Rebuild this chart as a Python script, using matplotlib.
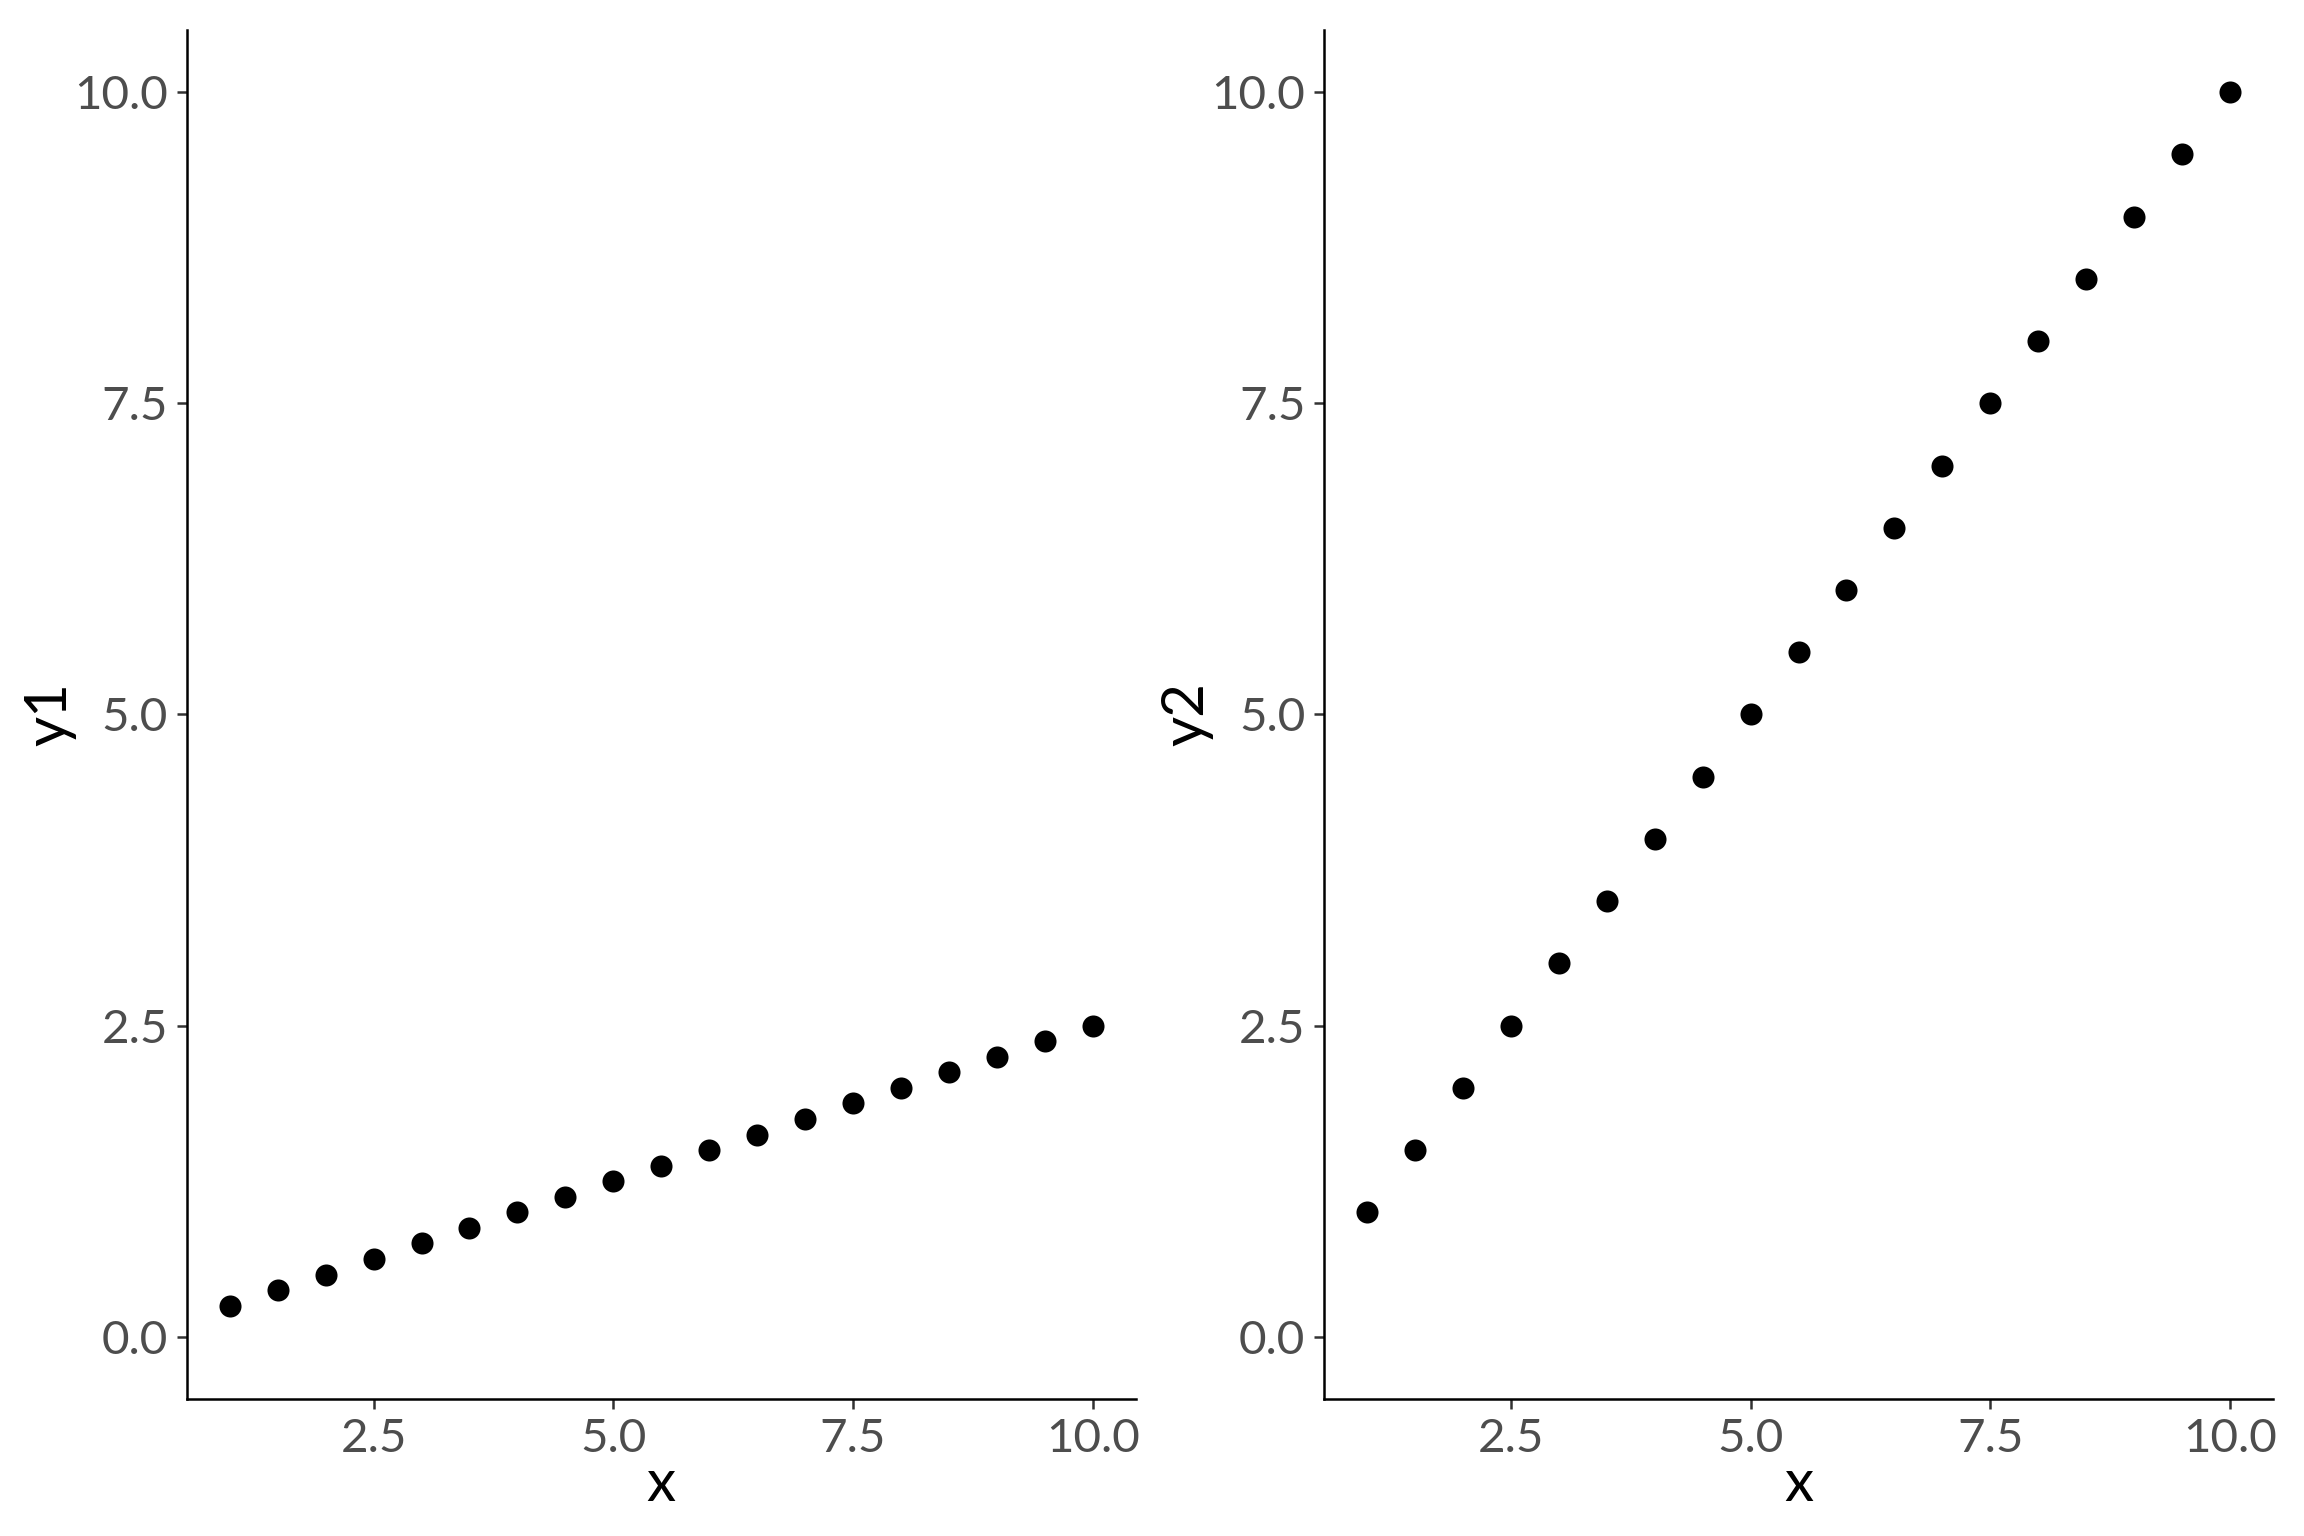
import matplotlib
matplotlib.use("Agg")
import matplotlib.pyplot as plt

plt.rcParams["font.family"] = ["Lato", "DejaVu Sans"]

x = [1.0, 1.5, 2.0, 2.5, 3.0, 3.5, 4.0, 4.5, 5.0, 5.5,
     6.0, 6.5, 7.0, 7.5, 8.0, 8.5, 9.0, 9.5, 10.0]
y1 = [0.25, 0.375, 0.5, 0.625, 0.75, 0.875, 1.0, 1.125, 1.25, 1.375,
      1.5, 1.625, 1.75, 1.875, 2.0, 2.125, 2.25, 2.375, 2.5]
y2 = [1.0, 1.5, 2.0, 2.5, 3.0, 3.5, 4.0, 4.5, 5.0, 5.5,
      6.0, 6.5, 7.0, 7.5, 8.0, 8.5, 9.0, 9.5, 10.0]
ticks = [2.5, 5.0, 7.5, 10.0]
yticks = [0.0, 2.5, 5.0, 7.5, 10.0]
tick_labels = ["2.5", "5.0", "7.5", "10.0"]
ytick_labels = ["0.0", "2.5", "5.0", "7.5", "10.0"]

fig = plt.figure(figsize=(7.68, 5.12), dpi=300)
left_ax = fig.add_axes([0.081, 0.0892, 0.412, 0.8913])
right_ax = fig.add_axes([0.5747, 0.0892, 0.4118, 0.8913])

for ax, yv, name in [(left_ax, y1, "y1"), (right_ax, y2, "y2")]:
    ax.scatter(x, yv, s=28, color="black", linewidths=0, zorder=3)
    ax.set_xlim(0.55, 10.45)
    ax.set_ylim(-0.5, 10.5)
    ax.set_xticks(ticks)
    ax.set_xticklabels(tick_labels)
    ax.set_yticks(yticks)
    ax.set_yticklabels(ytick_labels)
    for side in ("top", "right"):
        ax.spines[side].set_visible(False)
    for side in ("left", "bottom"):
        ax.spines[side].set_linewidth(0.6)
        ax.spines[side].set_color("black")
    ax.tick_params(axis="both", length=2.5, width=0.6, color="#333333",
                   labelsize=11.4, labelcolor="#4D4D4D", pad=2)
    ax.set_xlabel("x", fontsize=14, color="black", labelpad=-0.5)
    ax.set_ylabel(name, fontsize=14, color="black", labelpad=-0.5)

fig.savefig("out.png", dpi=300)
